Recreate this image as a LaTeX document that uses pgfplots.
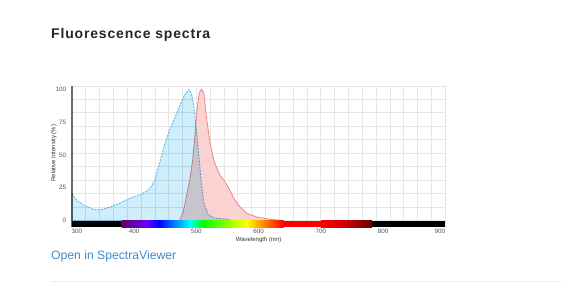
\documentclass[border=0pt]{standalone}
\usepackage{pgfplots}
\pgfplotsset{compat=1.18}
\usepackage{fontspec}
\setmainfont{Liberation Sans}
\newfontfamily\titlefont[LetterSpace=6]{Liberation Sans}
\definecolor{gridc}{HTML}{E6E6E6}
\definecolor{axc}{HTML}{6A6A6A}
\definecolor{tickc}{HTML}{555555}
\definecolor{exc}{HTML}{6CC4EA}
\definecolor{exfill}{HTML}{CDEEFA}
\definecolor{emc}{HTML}{F08484}
\definecolor{emfill}{HTML}{FAD2D2}
\definecolor{linkc}{HTML}{428BCA}
\definecolor{sp380}{HTML}{610061}
\definecolor{sp420}{HTML}{6A00FF}
\definecolor{sp440}{HTML}{0000FF}
\definecolor{sp490}{HTML}{00FFFF}
\definecolor{sp510}{HTML}{00FF00}
\definecolor{sp580}{HTML}{FFFF00}
\definecolor{sp645}{HTML}{FF0000}
\definecolor{sp740}{HTML}{C80000}
\definecolor{sp780}{HTML}{6A0000}
\pgfplotstableread{
x y
300 20.8
307 15.8
318 11.9
334 8.7
345 8.1
361 10.2
377 13.2
393 17.0
409 19.6
420 22.3
426 24.8
433 30.5
441 44.0
449 58.0
457 69.0
465 78.0
473 87.0
481 95.5
488 100.0
492 97.0
496 87.0
500 69.0
504 49.0
508 28.5
512 13.5
519 4.3
530 1.8
551 1.0
555 0.0
}\extable
\pgfplotstableread{
x y
473 0.0
479 6.9
484 18.3
489.5 31.0
494 46.2
497.5 63.9
501 84.2
504.5 97.0
508 100.0
512 97.0
516 79.0
520.5 64.0
524 53.8
529.5 43.7
537.5 34.8
545.5 29.7
553.5 23.4
561.5 15.8
569.5 10.7
580.5 5.6
598 2.5
620 0.8
640 0.0
}\emtable
\begin{document}
\begin{tikzpicture}[x=1pt,y=1pt]
\path[fill=white] (0,0) rectangle (561,283);
\node[anchor=base west, inner sep=0pt, text=black!85] at (51,244.5) {\titlefont\fontsize{14}{16}\selectfont\bfseries Fluorescence spectra};
\begin{axis}[
  at={(72pt,55.3pt)}, anchor=south west,
  scale only axis, width=373.7pt, height=141.7pt,
  xmin=300, xmax=900, ymin=-5.3, ymax=102.5,
  axis x line*=bottom, axis y line*=left,
  x axis line style={draw=none},
  y axis line style={draw=axc, line width=2.2pt},
  xtick={300,400,500,600,700,800,900},
  xticklabels={\hspace*{10pt}300,400,500,600,700,800,{900\hspace*{11pt}\mbox{}}},
  ytick={0,25,50,75,100},
  minor xtick={300,322.22,344.44,366.67,388.89,411.11,433.33,455.56,477.78,500,522.22,544.44,566.67,588.89,611.11,633.33,655.56,677.78,700,722.22,744.44,766.67,788.89,811.11,833.33,855.56,877.78,900},
  minor ytick={0,10.25,20.5,30.75,41,51.25,61.5,71.75,82,92.25,102.5},
  minor grid style={draw=gridc, line width=0.8pt},
  xmajorgrids=false, ymajorgrids=false, xminorgrids=true, yminorgrids=true,
  major tick length=0pt, minor tick length=0pt,
  /pgf/number format/assume math mode=true,
  tick label style={font=\fontsize{6.3}{7}\selectfont, text=tickc},
  xticklabel style={inner sep=0.5pt, yshift=-0.5pt},
  yticklabel style={inner sep=0pt, xshift=-5.5pt},
  xlabel={Wavelength (nm)},
  ylabel={Relative Intensity (\%)},
  label style={font=\fontsize{6}{7}\selectfont, text=black!80},
  xlabel style={at={(axis description cs:0.5,0)}, anchor=center, yshift=-12.5pt},
  ylabel style={at={(axis description cs:-0.0482,0.525)}, anchor=center},
  clip=false,
]
\addplot[draw=emc, line width=0.8pt, fill=emfill] table[x=x,y=y] {\emtable} \closedcycle;
\begin{scope}[blend mode=multiply]
\addplot[draw=exc, line width=0.9pt, dash pattern=on 2pt off 1.2pt, fill=exfill] table[x=x,y=y] {\extable} \closedcycle;
\end{scope}
\fill[black] (axis cs:300,-5.3) rectangle (axis cs:380,0);
\shade[left color=sp380, right color=sp420] (axis cs:380,-5.3) rectangle (axis cs:420,0);
\shade[left color=sp420, right color=sp440] (axis cs:419.9,-5.3) rectangle (axis cs:440,0);
\shade[left color=sp440, right color=sp490] (axis cs:439.9,-5.3) rectangle (axis cs:490,0);
\shade[left color=sp490, right color=sp510] (axis cs:489.9,-5.3) rectangle (axis cs:510,0);
\shade[left color=sp510, right color=sp580] (axis cs:509.9,-5.3) rectangle (axis cs:580,0);
\shade[left color=sp580, right color=sp645] (axis cs:579.9,-5.3) rectangle (axis cs:640,0);
\fill[sp645] (axis cs:639.9,-5.3) rectangle (axis cs:700,0);
\shade[left color=sp645, right color=sp740] (axis cs:699.9,-5.3) rectangle (axis cs:740,0);
\shade[left color=sp740, right color=sp780] (axis cs:739.9,-5.3) rectangle (axis cs:782,0);
\fill[black] (axis cs:781.9,-5.3) rectangle (axis cs:900,0);
\end{axis}
\node[anchor=base west, inner sep=0pt, text=linkc] at (51,23.5) {\fontsize{12.2}{14}\selectfont Open in SpectraViewer};
\draw[draw=black!7, line width=1pt] (51,1.5) -- (561,1.5);
\end{tikzpicture}
\end{document}
